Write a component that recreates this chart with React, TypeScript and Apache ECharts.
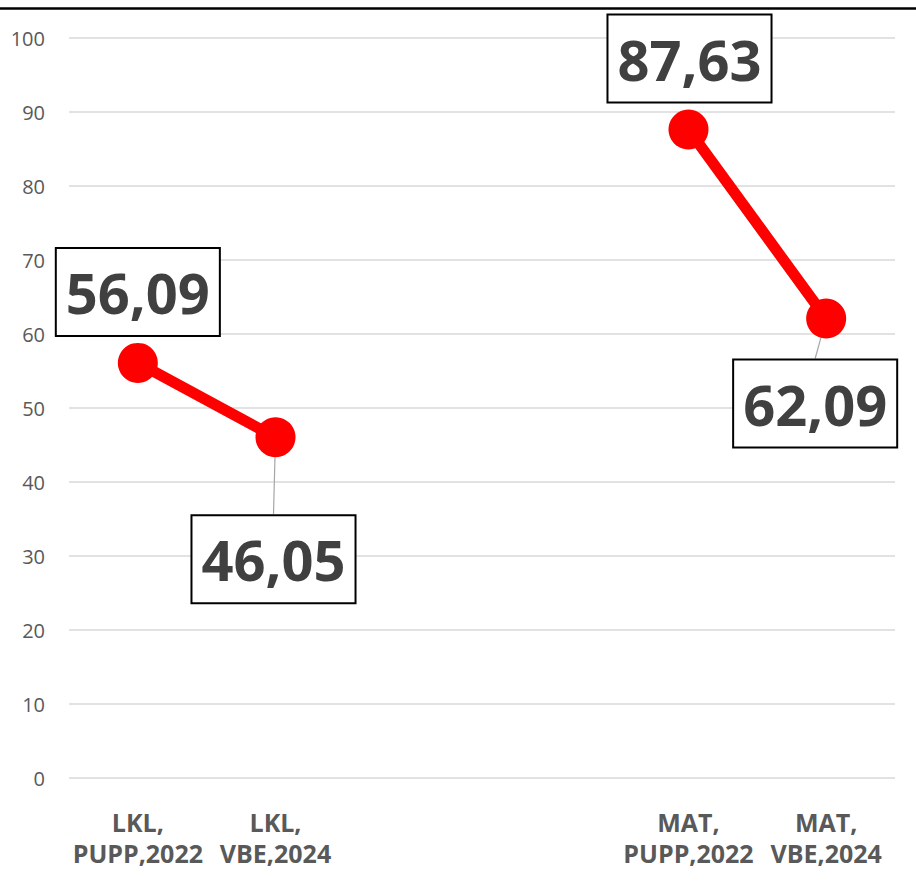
import React, { useEffect, useRef } from "react";
import * as echarts from "echarts";

const categories = ["LKL,\nPUPP,2022", "LKL,\nVBE,2024", " ", "  ", "MAT,\nPUPP,2022", "MAT,\nVBE,2024"];
const values: (number | null)[] = [56.09, 46.05, null, null, 87.63, 62.09];
const yTicks = { min: 0, max: 100, interval: 10 };
// label box offsets relative to each point (style, not data)
const labelOffsets: [number, number][] = [[0, -71], [-2, 122], [0, 0], [0, 0], [1, -71], [-11, 85]];
const showLeader = [false, true, false, false, false, true];

export default function App() {
  const ref = useRef<HTMLDivElement>(null);
  useEffect(() => {
    if (!ref.current) return;
    const chart = echarts.init(ref.current, null, { renderer: "svg" });
    const fmt = (v: number) => v.toFixed(2).replace(".", ",");
    chart.setOption({
      animation: false,
      backgroundColor: "#ffffff",
      grid: { left: 69, right: 21, top: 38, bottom: 104, containLabel: false },
      graphic: [
        {
          type: "line",
          shape: { x1: 0, y1: 8.5, x2: 916, y2: 8.5 },
          style: { stroke: "#000000", lineWidth: 2.5 },
          silent: true,
        },
      ],
      xAxis: {
        type: "category",
        data: categories,
        boundaryGap: true,
        axisLine: { show: false },
        axisTick: { show: false },
        axisLabel: {
          interval: 0,
          margin: 28,
          color: "#595959",
          fontFamily: "Open Sans",
          fontWeight: "bold",
          fontSize: 25,
          lineHeight: 31,
        },
        splitLine: { show: false },
      },
      yAxis: {
        type: "value",
        min: yTicks.min,
        max: yTicks.max,
        interval: yTicks.interval,
        axisLine: { show: false },
        axisTick: { show: false },
        axisLabel: {
          margin: 24,
          color: "#595959",
          fontFamily: "Open Sans",
          fontSize: 20,
        },
        splitLine: { lineStyle: { color: "#d9d9d9", width: 1.5 } },
      },
      series: [
        {
          type: "line",
          data: values.map((v, i) => ({
            value: v,
            labelLine: { show: showLeader[i] },
          })),
          connectNulls: false,
          symbol: "circle",
          symbolSize: 40,
          lineStyle: { color: "#ff0000", width: 11 },
          itemStyle: { color: "#ff0000" },
          label: {
            show: true,
            position: "inside",
            formatter: (p: any) => fmt(p.value),
            fontFamily: "Open Sans",
            fontWeight: "bold",
            fontSize: 56,
            lineHeight: 56,
            color: "#404040",
            backgroundColor: "#ffffff",
            borderColor: "#000000",
            borderWidth: 2,
            padding: [15, 9, 15, 9],
          },
          labelLine: {
            show: true,
            lineStyle: { color: "#a6a6a6", width: 1.2 },
          },
          labelLayout: (params: any) => {
            const o = labelOffsets[params.dataIndex] || [0, 0];
            return { dx: o[0], dy: o[1] };
          },
        },
      ],
    });
    return () => chart.dispose();
  }, []);
  return (
    <div
      ref={ref}
      style={{ position: "fixed", left: 0, top: 0, width: 916, height: 882 }}
    />
  );
}
